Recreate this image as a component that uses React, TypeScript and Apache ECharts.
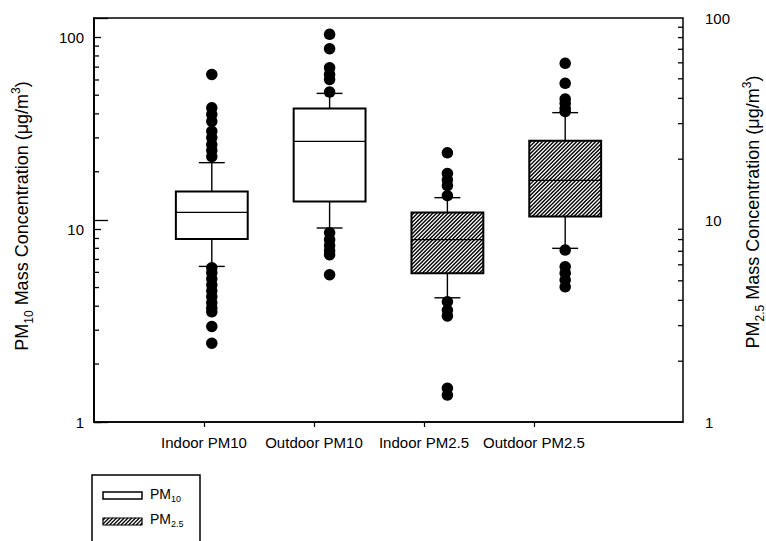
import React, { useEffect, useRef } from 'react';
import * as echarts from 'echarts';

// ---------- data ----------
const categories = ['Indoor PM10', 'Outdoor PM10', 'Indoor PM2.5', 'Outdoor PM2.5'];
const boxPositions = [1, 2, 3, 4];
const labelPositions = [1, 2, 3, 4];
const majorTicks = [1, 10, 100];
const minorTicks = [2, 3, 4, 5, 6, 7, 8, 9, 20, 30, 40, 50, 60, 70, 80, 90];

// [whisker low, Q1, median, Q3, whisker high]
const indoorPM10Box = [6.44, 8.95, 12.3, 15.8, 22.3];
const outdoorPM10Box = [10.2, 14.0, 28.8, 42.7, 51.1];
const indoorPM25Box = [4.12, 5.45, 8.0, 10.9, 12.9];
const outdoorPM25Box = [7.24, 10.4, 15.7, 24.7, 34.0];

const indoorPM10Outliers = [64.1, 43.0, 39.7, 36.6, 32.5, 30.1, 27.7, 25.8, 24.0,
  6.34, 5.97, 5.55, 5.17, 4.81, 4.48, 4.17, 3.92, 3.74, 3.14, 2.57];
const outdoorPM10Outliers = [103.7, 87.3, 69.5, 64.1, 60.4, 51.9,
  9.65, 8.87, 8.26, 7.77, 7.41, 5.83];
const indoorPM25Outliers = [21.5, 17.0, 15.8, 14.8, 13.2, 3.94, 3.58, 3.35, 1.47, 1.36];
const outdoorPM25Outliers = [59.7, 47.5, 39.7, 37.8, 35.7, 34.4, 7.1, 5.87, 5.45, 5.05, 4.67];

// ---------- styles ----------
const FONT = '"Liberation Sans", Arial, sans-serif';
const INK = '#000';
const BOX_HALF = 0.305; // in x data units
const CAP_HALF = 0.11;
const HATCH_STEP = 3.8;

function hatchLines(x0: number, y0: number, x1: number, y1: number, step: number, lw: number) {
  const out: any[] = [];
  const cStart = Math.ceil((x0 + y0) / step) * step;
  for (let c = cStart; c <= x1 + y1; c += step) {
    const xa = Math.max(x0, c - y1);
    const xb = Math.min(x1, c - y0);
    if (xb > xa) {
      out.push({
        type: 'line',
        shape: { x1: xa, y1: c - xa, x2: xb, y2: c - xb },
        style: { stroke: INK, lineWidth: lw },
        silent: true,
      });
    }
  }
  return out;
}

function makeRenderBox(hatched: boolean) {
  return (params: any, api: any) => {
    const x = api.value(0);
    const lo = api.value(1);
    const q1 = api.value(2);
    const med = api.value(3);
    const q3 = api.value(4);
    const hi = api.value(5);
    const cx = api.coord([x, med])[0];
    const xl = api.coord([x - BOX_HALF, med])[0];
    const xr = api.coord([x + BOX_HALF, med])[0];
    const cl = api.coord([x - CAP_HALF, med])[0];
    const cr = api.coord([x + CAP_HALF, med])[0];
    const yLo = api.coord([x, lo])[1];
    const yQ1 = api.coord([x, q1])[1];
    const yMed = api.coord([x, med])[1];
    const yQ3 = api.coord([x, q3])[1];
    const yHi = api.coord([x, hi])[1];
    const ln = { stroke: INK, lineWidth: 1.4 };
    const children: any[] = [
      { type: 'line', shape: { x1: cx, y1: yHi, x2: cx, y2: yQ3 }, style: ln },
      { type: 'line', shape: { x1: cl, y1: yHi, x2: cr, y2: yHi }, style: ln },
      { type: 'line', shape: { x1: cx, y1: yQ1, x2: cx, y2: yLo }, style: ln },
      { type: 'line', shape: { x1: cl, y1: yLo, x2: cr, y2: yLo }, style: ln },
      { type: 'rect', shape: { x: xl, y: yQ3, width: xr - xl, height: yQ1 - yQ3 }, style: { fill: '#fff', stroke: 'none' } },
    ];
    if (hatched) children.push(...hatchLines(xl, yQ3, xr, yQ1, HATCH_STEP, 1.4));
    children.push(
      { type: 'line', shape: { x1: xl, y1: yMed, x2: xr, y2: yMed }, style: { stroke: INK, lineWidth: 1.3 } },
      { type: 'rect', shape: { x: xl, y: yQ3, width: xr - xl, height: yQ1 - yQ3 }, style: { fill: 'none', stroke: INK, lineWidth: 2 } },
    );
    return { type: 'group', children };
  };
}

function makeRenderMinorTick(side: 'left' | 'right', len: number) {
  return (params: any, api: any) => {
    const y = api.coord([0, api.value(1)])[1];
    const cs = params.coordSys;
    const x = side === 'left' ? cs.x : cs.x + cs.width;
    const x2 = side === 'left' ? x + len : x - len;
    return { type: 'line', shape: { x1: x, y1: y, x2, y2: y }, style: { stroke: INK, lineWidth: 1.3 } };
  };
}

const tickLabelStyle = { fontFamily: FONT, fontSize: 15, color: INK };

function logAxis(position: 'left' | 'right', max: number, inside: boolean, len: number, margin: number) {
  return {
    type: 'log',
    logBase: 10,
    min: 1,
    max,
    position,
    axisLine: { show: true, lineStyle: { color: INK, width: 1.5 } },
    axisTick: {
      show: true,
      inside,
      length: len,
      customValues: majorTicks,
      lineStyle: { color: INK, width: 1.3 },
    },
    axisLabel: { show: true, customValues: majorTicks, margin, ...tickLabelStyle, formatter: (v: number) => String(Math.round(v)) },
    splitLine: { show: false },
    minorTick: { show: false },
  };
}

const richTitle = {
  m: { fontFamily: FONT, fontSize: 18, color: INK, lineHeight: 25 },
  s: { fontFamily: FONT, fontSize: 12, color: INK, verticalAlign: 'bottom', lineHeight: 12 },
  u: { fontFamily: FONT, fontSize: 12, color: INK, verticalAlign: 'top', lineHeight: 12 },
};
const richLegend = {
  m: { fontFamily: FONT, fontSize: 14, color: INK, lineHeight: 18 },
  s: { fontFamily: FONT, fontSize: 9, color: INK, verticalAlign: 'bottom', lineHeight: 10 },
};

export default function App() {
  const ref = useRef<HTMLDivElement>(null);
  useEffect(() => {
    if (!ref.current) return;
    const chart = echarts.init(ref.current, undefined, { renderer: 'svg' });
    const legendHatch = hatchLines(103, 518, 142, 525, HATCH_STEP, 1.2);
    chart.setOption({
      animation: false,
      backgroundColor: '#fff',
      grid: { left: 94, top: 18, width: 589, height: 404, show: true, borderColor: INK, borderWidth: 1.5, containLabel: false },
      xAxis: [
        { type: 'value', min: 0, max: 5, position: 'bottom', show: false, splitLine: { show: false } },
        {
          type: 'value',
          min: 0,
          max: 5.355,
          position: 'bottom',
          axisLine: { show: true, lineStyle: { color: INK, width: 1.5 } },
          axisTick: { show: true, inside: false, length: 5, customValues: labelPositions, lineStyle: { color: INK, width: 1.2 } },
          axisLabel: {
            show: true,
            customValues: labelPositions,
            margin: 13,
            ...tickLabelStyle,
            formatter: (v: number) => categories[Math.round(v) - 1] ?? '',
          },
          splitLine: { show: false },
        },
      ],
      yAxis: [
        logAxis('left', 126, true, 7, 10),
        logAxis('right', 100, false, 14, 22),
      ],
      series: [
        {
          type: 'custom',
          xAxisIndex: 0,
          yAxisIndex: 0,
          renderItem: makeRenderMinorTick('left', 5),
          encode: { x: 0, y: 1 },
          data: minorTicks.map((v) => [0, v]),
          silent: true,
          z: 5,
        },
        {
          type: 'custom',
          xAxisIndex: 0,
          yAxisIndex: 1,
          renderItem: makeRenderMinorTick('right', 5),
          encode: { x: 0, y: 1 },
          data: minorTicks.map((v) => [0, v]),
          silent: true,
          z: 5,
        },
        {
          type: 'custom',
          xAxisIndex: 0,
          yAxisIndex: 0,
          renderItem: makeRenderBox(false),
          encode: { x: 0, y: [1, 2, 3, 4, 5] },
          data: [[boxPositions[0], ...indoorPM10Box], [boxPositions[1], ...outdoorPM10Box]],
          z: 2,
        },
        {
          type: 'custom',
          xAxisIndex: 0,
          yAxisIndex: 1,
          renderItem: makeRenderBox(true),
          encode: { x: 0, y: [1, 2, 3, 4, 5] },
          data: [[boxPositions[2], ...indoorPM25Box], [boxPositions[3], ...outdoorPM25Box]],
          z: 2,
        },
        {
          type: 'scatter',
          xAxisIndex: 0,
          yAxisIndex: 0,
          symbol: 'circle',
          symbolSize: 11.5,
          itemStyle: { color: INK, opacity: 1 },
          data: [
            ...indoorPM10Outliers.map((v) => [boxPositions[0], v]),
            ...outdoorPM10Outliers.map((v) => [boxPositions[1], v]),
          ],
          z: 3,
        },
        {
          type: 'scatter',
          xAxisIndex: 0,
          yAxisIndex: 1,
          symbol: 'circle',
          symbolSize: 11.5,
          itemStyle: { color: INK, opacity: 1 },
          data: [
            ...indoorPM25Outliers.map((v) => [boxPositions[2], v]),
            ...outdoorPM25Outliers.map((v) => [boxPositions[3], v]),
          ],
          z: 3,
        },
      ],
      graphic: [
        {
          type: 'text',
          x: 22,
          y: 216,
          rotation: Math.PI / 2,
          style: {
            text: '{m|PM}{s|10}{m| Mass Concentration (μg/m}{u|3}{m|)}',
            rich: richTitle,
            align: 'center',
            verticalAlign: 'middle',
          },
        },
        {
          type: 'text',
          x: 753,
          y: 212,
          rotation: Math.PI / 2,
          style: {
            text: '{m|PM}{s|2.5}{m| Mass Concentration (μg/m}{u|3}{m|)}',
            rich: richTitle,
            align: 'center',
            verticalAlign: 'middle',
          },
        },
        {
          type: 'rect',
          shape: { x: 92, y: 475, width: 108, height: 90 },
          style: { fill: 'none', stroke: INK, lineWidth: 1.5 },
        },
        {
          type: 'rect',
          shape: { x: 103, y: 492, width: 39, height: 7 },
          style: { fill: '#fff', stroke: INK, lineWidth: 1.5 },
        },
        ...legendHatch,
        {
          type: 'rect',
          shape: { x: 103, y: 518, width: 39, height: 7 },
          style: { fill: 'none', stroke: INK, lineWidth: 1.2 },
        },
        {
          type: 'text',
          x: 150,
          y: 494,
          style: { text: '{m|PM}{s|10}', rich: richLegend, align: 'left', verticalAlign: 'middle' },
        },
        {
          type: 'text',
          x: 150,
          y: 519,
          style: { text: '{m|PM}{s|2.5}', rich: richLegend, align: 'left', verticalAlign: 'middle' },
        },
      ],
    });
    return () => chart.dispose();
  }, []);
  return <div ref={ref} style={{ position: 'absolute', left: 0, top: 0, width: 766, height: 541 }} />;
}
